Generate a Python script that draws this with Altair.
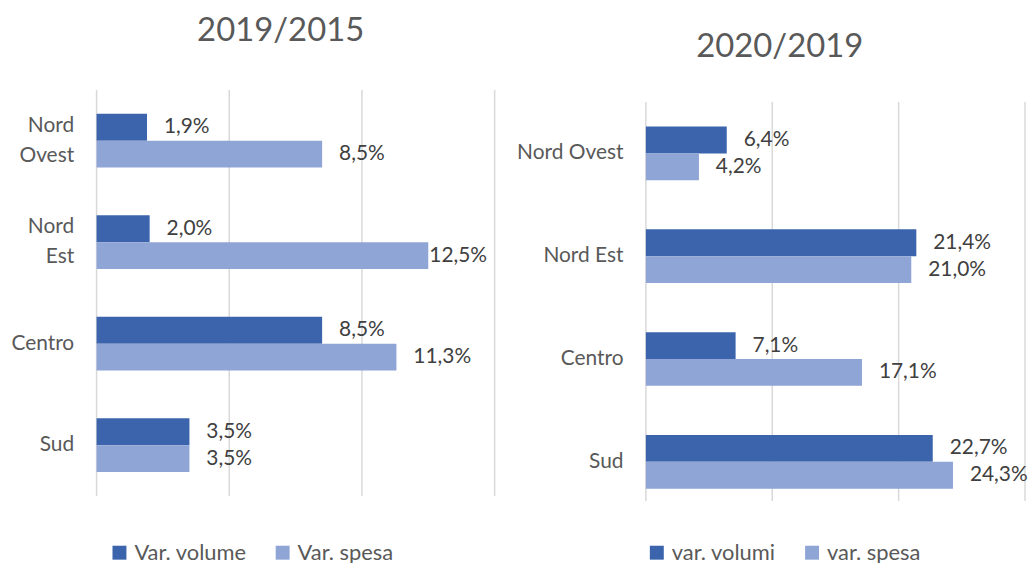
import altair as alt
import pandas as pd

regions = ["Nord Ovest", "Nord Est", "Centro", "Sud"]

left_title = "2019/2015"
left_series = ["Var. volume", "Var. spesa"]
left_volume = [1.9, 2.0, 8.5, 3.5]
left_spesa = [8.5, 12.5, 11.3, 3.5]
left_ticks = [0, 5, 10, 15]

right_title = "2020/2019"
right_series = ["var. volumi", "var. spesa"]
right_volumi = [6.4, 21.4, 7.1, 22.7]
right_spesa = [4.2, 21.0, 17.1, 24.3]
right_ticks = [0, 10, 20, 30]

colors = ["#3B64AD", "#8FA5D5"]
FONT = "Lato"
GREY = "#595959"
BAR_H = 27
LINE_H = 30


def make_frame(series, a, b):
    rows = []
    for r, va, vb in zip(regions, a, b):
        rows.append({"region": r, "series": series[0], "v": va})
        rows.append({"region": r, "series": series[1], "v": vb})
    return pd.DataFrame(rows)


def panel(df, series, ticks, title, width, height, yscale, title_offset,
          title_dx, legend_x, legend_y, split_labels, grid_top, shove_above):
    xscale = alt.Scale(domain=[ticks[0], ticks[-1]], nice=False, zero=True)
    axis_kw = dict(title=None, domain=False, ticks=False, labelPadding=23,
                   labelFontSize=21, labelColor=GREY, labelFont=FONT,
                   labelLineHeight=LINE_H, grid=False)
    if split_labels:
        axis_kw["labelExpr"] = "split(datum.label, ' ')"
        axis_kw["labelOffset"] = {
            "condition": {"test": "indexof(datum.value, ' ') > 0",
                          "value": -LINE_H / 2},
            "value": 0,
        }
    y = alt.Y("region:N", sort=regions, scale=yscale, axis=alt.Axis(**axis_kw))
    color = alt.Color(
        "series:N", sort=series,
        scale=alt.Scale(domain=series, range=colors),
        legend=alt.Legend(
            title=None, orient="none", legendX=legend_x, legendY=legend_y,
            direction="horizontal", symbolType="square", symbolSize=196,
            symbolStrokeWidth=0, labelFontSize=22, labelColor=GREY,
            labelFont=FONT, columnPadding=25, labelOffset=4,
        ),
    )

    grid = alt.Chart(pd.DataFrame({"t": ticks})).mark_rule(
        color="#D9D9D9", strokeWidth=1.5
    ).encode(
        x=alt.X("t:Q", scale=xscale, axis=None),
        y=alt.value(grid_top),
        y2=alt.value(height),
    )

    base = alt.Chart(df).transform_calculate(
        label="replace(format(datum.v, '.1f'), '.', ',') + '%'"
    )
    x = alt.X("v:Q", scale=xscale, axis=None)
    txt_kw = dict(align="left", baseline="middle", fontSize=21, font=FONT,
                  color="#404040")

    layers = [grid]
    for k, s in enumerate(series):
        off = (k - 0.5) * BAR_H
        sub = base.transform_filter(alt.datum.series == s)
        layers.append(sub.mark_bar(height=BAR_H, yOffset=off).encode(
            x=x, y=y, color=color))
        if shove_above is None:
            layers.append(sub.mark_text(dx=17, yOffset=off, **txt_kw).encode(
                x=x, y=y, text="label:N"))
        else:
            layers.append(sub.transform_filter(f"datum.v <= {shove_above}")
                          .mark_text(dx=17, yOffset=off, **txt_kw)
                          .encode(x=x, y=y, text="label:N"))
            layers.append(sub.transform_filter(f"datum.v > {shove_above}")
                          .mark_text(dx=1, yOffset=off, **txt_kw)
                          .encode(x=x, y=y, text="label:N"))

    return alt.layer(*layers).properties(
        width=width, height=height,
        title=alt.TitleParams(
            text=title, fontSize=33, font=FONT, color=GREY,
            fontWeight="normal", anchor="middle", frame="group",
            offset=title_offset, dx=title_dx, baseline="alphabetic",
        ),
    )


left = panel(
    make_frame(left_series, left_volume, left_spesa), left_series, left_ticks,
    left_title, 400, 408,
    alt.Scale(paddingInner=0.47, paddingOuter=0.235, align=0.5),
    title_offset=15, title_dx=-15, legend_x=12, legend_y=454,
    split_labels=True, grid_top=0, shove_above=12,
)
right = panel(
    make_frame(right_series, right_volumi, right_spesa), right_series,
    right_ticks, right_title, 381, 413,
    alt.Scale(paddingInner=0.482, paddingOuter=0.24, align=0.746),
    title_offset=0, title_dx=-56, legend_x=0, legend_y=454,
    split_labels=False, grid_top=12, shove_above=None,
)

chart = alt.hconcat(left, right, spacing=152, bounds="flush").resolve_scale(
    x="independent", y="independent", color="independent"
).resolve_legend(color="independent").properties(
    padding={"left": 2, "top": 6, "right": 0, "bottom": 0}
).configure_view(stroke=None)

chart.save("out.html", embed_options={"renderer": "svg", "actions": False})
